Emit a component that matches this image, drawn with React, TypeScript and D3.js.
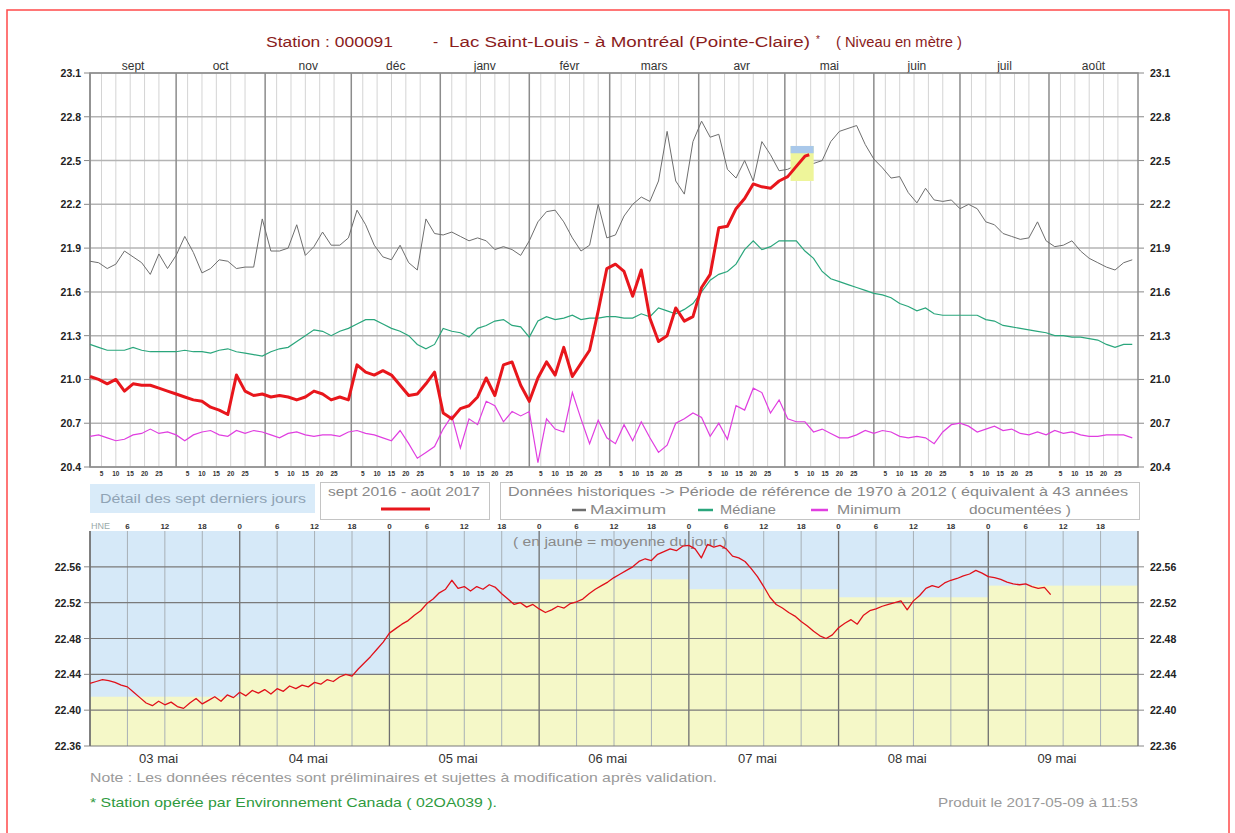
import React from "react";
import * as d3 from "d3";

const MONTHS = ["sept", "oct", "nov", "déc", "janv", "févr", "mars", "avr", "mai", "juin", "juil", "août"];
const DAY_TICKS = [5, 10, 15, 20, 25];
const TOP_TICKS = [20.4, 20.7, 21.0, 21.3, 21.6, 21.9, 22.2, 22.5, 22.8, 23.1];
const BOTTOM_TICKS = [22.36, 22.4, 22.44, 22.48, 22.52, 22.56];
const DAY_NAMES = ["03 mai", "04 mai", "05 mai", "06 mai", "07 mai", "08 mai", "09 mai"];

// historical series, one value every 3 days from 2016-09-01
const MAXIMUM = [
  21.81, 21.8, 21.76, 21.79, 21.88, 21.84, 21.8, 21.72, 21.86, 21.76,
  21.85, 21.98, 21.87, 21.73, 21.76, 21.82, 21.81, 21.76, 21.77, 21.77,
  22.1, 21.88, 21.88, 21.9, 22.06, 21.85, 21.91, 22.01, 21.92, 21.92,
  21.97, 22.16, 22.06, 21.92, 21.84, 21.82, 21.92, 21.8, 21.75, 22.1,
  22.0, 21.99, 22.01, 21.98, 21.95, 21.97, 21.95, 21.89, 21.91, 21.89,
  21.85, 21.95, 22.08, 22.15, 22.16, 22.08, 21.97, 21.88, 21.92, 22.2,
  21.97,
  21.99, 22.12, 22.2, 22.25, 22.22, 22.36, 22.7, 22.36, 22.27,
  22.63, 22.77, 22.66, 22.68, 22.44, 22.38, 22.5, 22.36, 22.63, 22.54,
  22.43, 22.44, 22.47, 22.51, 22.48, 22.5, 22.63, 22.7, 22.72, 22.74,
  22.61, 22.51, 22.45, 22.38, 22.39, 22.28, 22.21, 22.31, 22.23, 22.22,
  22.23, 22.17, 22.2, 22.17, 22.08, 22.06, 22.0, 21.98, 21.96, 21.97,
  22.08, 21.95, 21.91, 21.92, 21.95, 21.88, 21.83, 21.8, 21.77, 21.75,
  21.8, 21.82,
];
const MEDIANE = [
  21.24, 21.22, 21.2, 21.2, 21.2, 21.22, 21.2, 21.19, 21.19, 21.19,
  21.19, 21.2, 21.19, 21.19, 21.18, 21.2, 21.21, 21.19, 21.18, 21.17,
  21.16, 21.19, 21.21, 21.22, 21.26, 21.3, 21.34, 21.33, 21.3, 21.33,
  21.35, 21.38, 21.41, 21.41, 21.38, 21.35, 21.33, 21.3, 21.24, 21.21,
  21.24, 21.35, 21.33, 21.32, 21.29, 21.35, 21.37, 21.4, 21.41, 21.37,
  21.36, 21.29, 21.4, 21.43, 21.41, 21.42, 21.44, 21.41, 21.42, 21.42,
  21.43,
  21.43, 21.42, 21.42, 21.45, 21.43, 21.49, 21.47, 21.45, 21.48,
  21.52, 21.6, 21.68, 21.72, 21.74, 21.79, 21.89, 21.95, 21.89, 21.91,
  21.95, 21.95, 21.95, 21.88, 21.83, 21.74, 21.69, 21.67, 21.65, 21.63,
  21.61, 21.59, 21.58, 21.56, 21.52, 21.5, 21.47, 21.49, 21.45, 21.44,
  21.44, 21.44, 21.44, 21.44, 21.41, 21.4, 21.37, 21.36, 21.35, 21.34,
  21.33, 21.32, 21.3, 21.3, 21.29, 21.29, 21.28, 21.27, 21.24, 21.22,
  21.24, 21.24,
];
const MINIMUM = [
  20.61, 20.62, 20.6, 20.58, 20.59, 20.62, 20.63, 20.66, 20.63, 20.64,
  20.62, 20.58, 20.62, 20.64, 20.65, 20.62, 20.61, 20.65, 20.63, 20.65,
  20.64, 20.62, 20.6, 20.63, 20.64, 20.62, 20.61, 20.62, 20.62, 20.61,
  20.64, 20.65, 20.63, 20.62, 20.6, 20.58, 20.65, 20.56, 20.46, 20.5,
  20.54, 20.66, 20.75, 20.53, 20.73, 20.69, 20.85, 20.82, 20.71, 20.78,
  20.75, 20.78, 20.43, 20.73, 20.66, 20.64, 20.91, 20.73, 20.56, 20.72,
  20.6,
  20.56, 20.69, 20.58, 20.71, 20.6, 20.5, 20.55, 20.7, 20.73,
  20.77, 20.74, 20.61, 20.7, 20.59, 20.82, 20.79, 20.94, 20.91, 20.77,
  20.86, 20.73, 20.71, 20.71, 20.64, 20.66, 20.63, 20.6, 20.6, 20.62,
  20.65, 20.63, 20.65, 20.64, 20.61, 20.6, 20.61, 20.6, 20.56, 20.64,
  20.69, 20.7, 20.68, 20.64, 20.66, 20.68, 20.65, 20.66, 20.63, 20.62,
  20.64, 20.62, 20.65, 20.63, 20.64, 20.62, 20.61, 20.61, 20.62, 20.62,
  20.62, 20.6,
];
// sept 2016 - août 2017, every 3 days from 2016-09-01, then 2017-05-09
const CURRENT = [
  21.02, 21.0, 20.97, 21.0, 20.92, 20.97, 20.96, 20.96, 20.94, 20.92,
  20.9, 20.88, 20.86, 20.85, 20.81, 20.79, 20.76, 21.03, 20.92, 20.89,
  20.9, 20.88, 20.89, 20.88, 20.86, 20.88, 20.92, 20.9, 20.86, 20.88,
  20.86, 21.1, 21.05, 21.03, 21.06, 21.03, 20.96, 20.89, 20.9, 20.97,
  21.05, 20.77, 20.73, 20.8, 20.82, 20.88, 21.01, 20.89, 21.1, 21.12,
  20.96, 20.85, 21.01, 21.12, 21.03, 21.22, 21.02, 21.11, 21.2, 21.47,
  21.76,
  21.79, 21.74, 21.57, 21.75, 21.42, 21.26, 21.3, 21.49, 21.4,
  21.43, 21.63, 21.72, 22.04, 22.05, 22.17, 22.24, 22.34, 22.32, 22.31,
  22.36, 22.39, 22.46, 22.53,
];
const CURRENT_LAST = 22.54;

// hourly levels from 2017-05-03 00:00 (HNE)
const RECENT = [
  22.43, 22.432, 22.434, 22.433, 22.431, 22.428, 22.426, 22.42, 22.414, 22.408, 22.405, 22.41,
  22.406, 22.409, 22.404, 22.402, 22.408, 22.413, 22.407, 22.411, 22.415, 22.41, 22.417, 22.414,
  22.42, 22.416, 22.422, 22.419, 22.423, 22.418, 22.424, 22.421, 22.427, 22.424, 22.428, 22.426,
  22.431, 22.429, 22.434, 22.432, 22.437, 22.44, 22.438, 22.446, 22.453, 22.46, 22.468, 22.476,
  22.486, 22.491, 22.496, 22.5, 22.506, 22.511, 22.519, 22.524, 22.531, 22.535, 22.545, 22.536,
  22.538, 22.533, 22.538, 22.535, 22.54, 22.537, 22.53, 22.524, 22.518, 22.52, 22.515, 22.518,
  22.513, 22.509, 22.512, 22.516, 22.514, 22.519, 22.521, 22.524, 22.53, 22.535, 22.539, 22.543,
  22.548, 22.552, 22.556, 22.56, 22.566, 22.569, 22.567, 22.574, 22.577, 22.58, 22.578, 22.583,
  22.584, 22.58, 22.57, 22.585, 22.582, 22.584, 22.58, 22.572, 22.57, 22.566, 22.558, 22.549,
  22.538, 22.526, 22.518, 22.514, 22.509, 22.505, 22.499, 22.494, 22.488, 22.483, 22.48, 22.484,
  22.492, 22.497, 22.501, 22.496, 22.506, 22.511, 22.513, 22.516, 22.518, 22.52, 22.522, 22.512,
  22.522, 22.528, 22.536, 22.539, 22.537, 22.542, 22.545, 22.547, 22.55, 22.552, 22.556, 22.553,
  22.549, 22.548, 22.546, 22.543, 22.541, 22.54, 22.541, 22.538, 22.536, 22.537, 22.529,
];
// moyenne du jour, 03 to 09 mai
const DAILY_MEAN = [22.415, 22.44, 22.521, 22.546, 22.535, 22.526, 22.539];

const FONT = "'Liberation Sans', Arial, sans-serif";
const TOP = { left: 90, right: 1138, top: 73, bottom: 467 };
const BOT = { left: 90, right: 1138, top: 531, bottom: 746 };
const START = new Date(2016, 8, 1);
const END = new Date(2017, 8, 1);
const WEEK_START = new Date(2017, 4, 3);
const WEEK_END = new Date(2017, 4, 10);
const STEP = 3;

type Pt = [Date, number];

// text stretched to the width it takes in the original page
const Label = ({ x, y, w, size = 13, fill = "#888", children }: any) => (
  <text x={x} y={y} textLength={w} lengthAdjust="spacingAndGlyphs" fontFamily={FONT} fontSize={size} fill={fill}>
    {children}
  </text>
);

export default function App() {
  const x = d3.scaleTime().domain([START, END]).range([TOP.left, TOP.right]);
  const y = d3.scaleLinear().domain([20.4, 23.1]).range([TOP.bottom, TOP.top]);
  const xb = d3.scaleTime().domain([WEEK_START, WEEK_END]).range([BOT.left, BOT.right]);
  const yb = d3.scaleLinear().domain([22.36, 22.6]).range([BOT.bottom, BOT.top]);

  const line = d3.line<Pt>().x((d) => x(d[0])).y((d) => y(d[1]));
  const lineB = d3.line<Pt>().x((d) => xb(d[0])).y((d) => yb(d[1]));
  const toPts = (vals: number[]): Pt[] => vals.map((v, i) => [d3.timeDay.offset(START, i * STEP), v]);

  const currentPts = toPts(CURRENT).concat([[new Date(2017, 4, 9, 12), CURRENT_LAST]]);
  const recentPts: Pt[] = RECENT.map((v, i) => [d3.timeHour.offset(WEEK_START, i), v]);

  const months = d3.timeMonths(START, END);
  const days = d3.timeDays(WEEK_START, WEEK_END);
  const hours = d3.timeHours(WEEK_START, WEEK_END, 6);

  const axisText = { fontFamily: FONT, fontSize: 10.5, fontWeight: 700, fill: "#222" };

  return (
    <svg width={1235} height={833} style={{ position: "absolute", left: 0, top: 0, background: "#fff" }}>
      <rect x={7} y={10} width={1222} height={840} fill="none" stroke="#ff4a4a" strokeWidth={1.5} />

      <Label x={266} y={47} w={127} size={15.5} fill="#8a1c1c">Station : 000091</Label>
      <Label x={433} y={47} size={15.5} fill="#8a1c1c">-</Label>
      <Label x={449} y={47} w={361} size={15.5} fill="#8a1c1c">Lac Saint-Louis - à Montréal (Pointe-Claire)</Label>
      <Label x={816} y={43} size={10} fill="#8a1c1c">*</Label>
      <Label x={836} y={47} w={126} size={15.5} fill="#8a1c1c">( Niveau en mètre )</Label>

      {/* top chart: sept 2016 - août 2017 */}
      <rect x={TOP.left} y={TOP.top} width={TOP.right - TOP.left} height={TOP.bottom - TOP.top} fill="#fff" />
      {months.map((m, i) =>
        DAY_TICKS.map((d) => {
          const xx = x(new Date(m.getFullYear(), m.getMonth(), d));
          return (
            <g key={`${i}-${d}`}>
              <line x1={xx} x2={xx} y1={TOP.top} y2={TOP.bottom} stroke="#d4d4d4" />
              <text x={xx} y={TOP.bottom + 9} textAnchor="middle" fontFamily={FONT} fontSize={6.5} fontWeight={700} fill="#333">
                {d}
              </text>
            </g>
          );
        })
      )}
      {TOP_TICKS.map((t) => (
        <g key={t}>
          <line x1={TOP.left} x2={TOP.right} y1={y(t)} y2={y(t)} stroke="#b4b4b4" strokeWidth={1.5} />
          <line x1={TOP.left - 6} x2={TOP.left} y1={y(t)} y2={y(t)} stroke="#888" />
          <line x1={TOP.right} x2={TOP.right + 6} y1={y(t)} y2={y(t)} stroke="#888" />
          <text x={TOP.left - 9} y={y(t) + 4} textAnchor="end" {...axisText}>{t.toFixed(1)}</text>
          <text x={TOP.right + 12} y={y(t) + 4} {...axisText}>{t.toFixed(1)}</text>
        </g>
      ))}
      {months.map((m, i) => {
        const next = d3.timeMonth.offset(m, 1);
        return (
          <g key={`m${i}`}>
            <line x1={x(m)} x2={x(m)} y1={TOP.top} y2={TOP.bottom} stroke="#8c8c8c" strokeWidth={1.5} />
            <text x={(x(m) + x(next)) / 2} y={70} textAnchor="middle" fontFamily={FONT} fontSize={12} fill="#333">
              {MONTHS[i]}
            </text>
          </g>
        );
      })}
      <rect x={TOP.left} y={TOP.top} width={TOP.right - TOP.left} height={TOP.bottom - TOP.top} fill="none" stroke="#8c8c8c" strokeWidth={1.5} />

      <path d={line(toPts(MAXIMUM)) ?? ""} fill="none" stroke="#6e6e6e" strokeWidth={1} />
      <path d={line(toPts(MEDIANE)) ?? ""} fill="none" stroke="#2aa67c" strokeWidth={1.2} />
      <path d={line(toPts(MINIMUM)) ?? ""} fill="none" stroke="#e03ee0" strokeWidth={1.2} />
      {/* last seven days marker */}
      <rect x={x(WEEK_START)} y={y(22.6)} width={x(WEEK_END) - x(WEEK_START) + 3} height={y(22.36) - y(22.6)} fill="#eef59a" />
      <rect x={x(WEEK_START)} y={y(22.6)} width={x(WEEK_END) - x(WEEK_START) + 3} height={y(22.55) - y(22.6)} fill="#a9c8ea" />
      <path d={line(currentPts) ?? ""} fill="none" stroke="#e8161c" strokeWidth={3} strokeLinejoin="round" />

      {/* legend row */}
      <rect x={90} y={484} width={225} height={29} fill="#d9ebf9" />
      <Label x={100} y={503} w={206} fill="#8fa3b5">Détail des sept derniers jours</Label>
      <rect x={320.5} y={482.5} width={169} height={37} fill="#fff" stroke="#c4c4c4" />
      <Label x={328} y={496} w={152}>sept 2016 - août 2017</Label>
      <line x1={381} x2={430} y1={509} y2={509} stroke="#e8161c" strokeWidth={3} />
      <rect x={500.5} y={482.5} width={639} height={37} fill="#fff" stroke="#c4c4c4" />
      <Label x={508} y={496} w={620}>Données historiques -&gt; Période de référence  de 1970 à 2012   ( équivalent à 43 années</Label>
      <line x1={572} x2={586} y1={510} y2={510} stroke="#6e6e6e" strokeWidth={2.5} />
      <Label x={590} y={514} w={76}>Maximum</Label>
      <line x1={698} x2={713} y1={510} y2={510} stroke="#2aa67c" strokeWidth={2.5} />
      <Label x={720} y={514} w={56}>Médiane</Label>
      <line x1={811} x2={828} y1={510} y2={510} stroke="#e03ee0" strokeWidth={2.5} />
      <Label x={837} y={514} w={64}>Minimum</Label>
      <Label x={969} y={514} w={102}>documentées )</Label>

      {/* bottom chart: last seven days */}
      <rect x={BOT.left} y={BOT.top} width={BOT.right - BOT.left} height={BOT.bottom - BOT.top} fill="#d6e9f8" />
      {days.map((d, i) => (
        <rect key={`ym${i}`} x={xb(d)} y={yb(DAILY_MEAN[i])} width={xb(d3.timeDay.offset(d, 1)) - xb(d)} height={BOT.bottom - yb(DAILY_MEAN[i])} fill="#f5f8c8" />
      ))}
      {hours.map((h, i) => {
        const hh = h.getHours();
        return (
          <g key={`h${i}`}>
            <line x1={xb(h)} x2={xb(h)} y1={BOT.top} y2={BOT.bottom} stroke={hh === 0 ? "#6f6f6f" : "#a8b0b6"} strokeWidth={hh === 0 ? 1.3 : 1} />
            {i > 0 && (
              <text x={xb(h)} y={529} textAnchor="middle" fontFamily={FONT} fontSize={8} fontWeight={700} fill="#333">{hh}</text>
            )}
          </g>
        );
      })}
      <text x={91} y={529} fontFamily={FONT} fontSize={9} fill="#9aa">HNE</text>
      {BOTTOM_TICKS.map((t) => (
        <g key={`b${t}`}>
          <line x1={BOT.left} x2={BOT.right} y1={yb(t)} y2={yb(t)} stroke="#7a7a7a" strokeWidth={1.2} />
          <line x1={BOT.left - 6} x2={BOT.left} y1={yb(t)} y2={yb(t)} stroke="#888" />
          <line x1={BOT.right} x2={BOT.right + 6} y1={yb(t)} y2={yb(t)} stroke="#888" />
          <text x={BOT.left - 9} y={yb(t) + 4} textAnchor="end" {...axisText}>{t.toFixed(2)}</text>
          <text x={BOT.right + 12} y={yb(t) + 4} {...axisText}>{t.toFixed(2)}</text>
        </g>
      ))}
      <line x1={BOT.left} x2={BOT.left} y1={BOT.top} y2={BOT.bottom} stroke="#6f6f6f" strokeWidth={1.3} />
      <line x1={BOT.right} x2={BOT.right} y1={BOT.top} y2={BOT.bottom} stroke="#6f6f6f" strokeWidth={1.3} />
      <Label x={513} y={546} w={214} size={12.5} fill="#8a8a8a">( en jaune = moyenne du jour )</Label>
      <path d={lineB(recentPts) ?? ""} fill="none" stroke="#e0101a" strokeWidth={1.3} strokeLinejoin="round" />
      {days.map((d, i) => (
        <text key={`dn${i}`} x={xb(d3.timeHour.offset(d, 11))} y={763} textAnchor="middle" fontFamily={FONT} fontSize={13} fill="#333">
          {DAY_NAMES[i]}
        </text>
      ))}

      <Label x={90} y={782} w={627} fill="#9a9a9a">
        Note : Les données récentes sont préliminaires et sujettes à modification après validation.
      </Label>
      <Label x={90} y={807} w={407} fill="#2e9a3e">
        * Station opérée par Environnement Canada ( 02OA039 ).
      </Label>
      <Label x={938} y={807} w={200} fill="#9a9a9a">
        Produit le 2017-05-09 à 11:53
      </Label>
    </svg>
  );
}
